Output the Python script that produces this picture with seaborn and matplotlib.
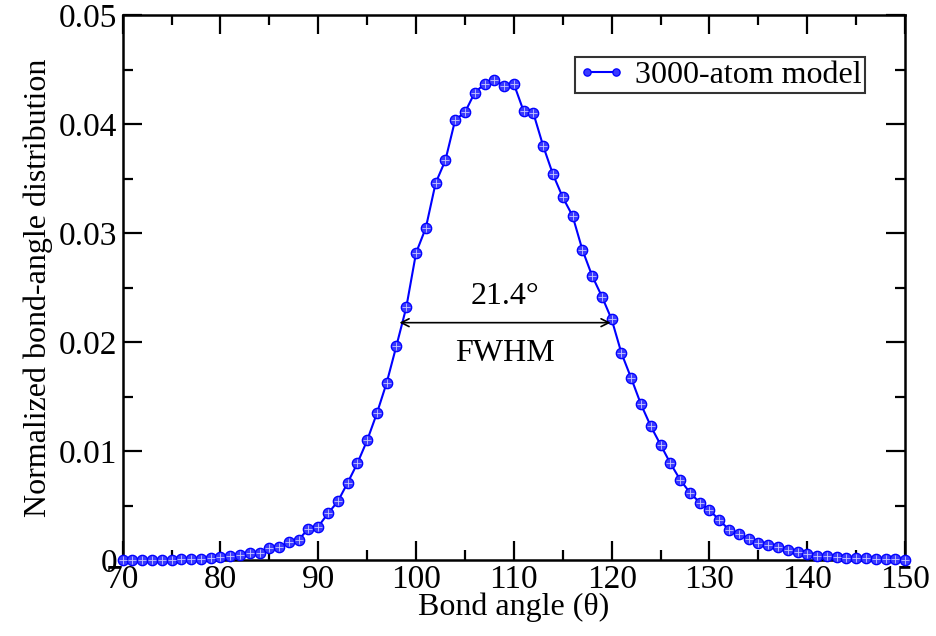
import numpy as np
import pandas as pd
import seaborn as sns
import matplotlib
matplotlib.use("Agg")
import matplotlib.pyplot as plt
from matplotlib.ticker import MultipleLocator, FuncFormatter

angles = list(range(70, 151))
distribution = [
    0.0, 0.0, 0.0, 0.0, 0.00005, 0.00005, 0.0001, 0.0001, 0.00015, 0.0002,
    0.0003, 0.0004, 0.0005, 0.0007, 0.0007, 0.0011, 0.0012, 0.0017, 0.0019, 0.0029,
    0.0031, 0.0043, 0.0054, 0.0071, 0.0089, 0.0110, 0.0135, 0.0163, 0.0197, 0.0232,
    0.0282, 0.0305, 0.0346, 0.0367, 0.0404, 0.0411, 0.0429, 0.0437, 0.0441, 0.0435,
    0.0437, 0.0412, 0.0410, 0.0380, 0.0354, 0.0333, 0.0316, 0.0285, 0.0261, 0.0242,
    0.0221, 0.0190, 0.0167, 0.0143, 0.0123, 0.0106, 0.0089, 0.0074, 0.0062, 0.0053,
    0.0046, 0.0037, 0.0028, 0.0024, 0.0020, 0.0016, 0.0014, 0.0012, 0.00095, 0.0008,
    0.00055, 0.0004, 0.0004, 0.0003, 0.0002, 0.0002, 0.0002, 0.0001, 0.0001, 0.0001,
    0.0,
]
series_label = "3000-atom model"
fwhm_left, fwhm_right, fwhm_level = 98.3, 119.9, 0.0218
fwhm_text = "21.4°"

sns.set_theme(style="ticks")
plt.rcParams['font.family'] = ['Liberation Serif', 'DejaVu Serif']
plt.rcParams['mathtext.fontset'] = 'stix'
for k in ["text.color", "axes.labelcolor", "xtick.color", "ytick.color", "axes.edgecolor"]:
    plt.rcParams[k] = "black"

df = pd.DataFrame({"angle": angles, "dist": distribution})

fig = plt.figure(figsize=(9.36, 6.36), dpi=100)
ax = fig.add_axes([0.131, 0.119, 0.836, 0.857])

blue = "#0000ff"
sns.lineplot(data=df, x="angle", y="dist", ax=ax, color=blue, lw=1.5,
             marker="o", markersize=7.5, markerfacecolor="#3a3aff",
             markeredgecolor=blue, markeredgewidth=0.9, label=series_label,
             clip_on=False, zorder=3)
# hatch-like pattern inside markers
ax.plot(df["angle"], df["dist"], ls="none", marker="+", markersize=6,
        markeredgewidth=0.6, color="#c8c8ff", clip_on=False, zorder=4)

ax.set_xlim(70, 150)
ax.set_ylim(0, 0.05)
ax.xaxis.set_major_locator(MultipleLocator(10))
ax.xaxis.set_minor_locator(MultipleLocator(5))
ax.yaxis.set_major_locator(MultipleLocator(0.01))
ax.yaxis.set_minor_locator(MultipleLocator(0.005))
ax.yaxis.set_major_formatter(FuncFormatter(lambda v, p: "0" if abs(v) < 1e-12 else f"{v:.2f}"))

ax.tick_params(which="both", direction="in", top=True, right=True, width=1.6,
               color="black")
ax.tick_params(which="major", length=14, labelsize=24, pad=4)
ax.tick_params(axis="x", which="major", pad=3)
ax.tick_params(which="minor", length=7)
for s in ax.spines.values():
    s.set_linewidth(1.8)
    s.set_color("black")

ax.set_xlabel("Bond angle (θ)", fontsize=23, labelpad=-2)
ax.set_ylabel("Normalized bond-angle distribution", fontsize=23, labelpad=4)

ax.annotate("", xy=(fwhm_left, fwhm_level), xytext=(fwhm_right, fwhm_level),
            arrowprops=dict(arrowstyle="<->", color="black", lw=1.2,
                            shrinkA=0, shrinkB=0, mutation_scale=14))
ax.text((fwhm_left + fwhm_right) / 2, fwhm_level + 0.0011, fwhm_text,
        ha="center", va="bottom", fontsize=23)
ax.text((fwhm_left + fwhm_right) / 2, fwhm_level - 0.0015, "FWHM",
        ha="center", va="top", fontsize=23)

leg = ax.legend(loc="upper right", bbox_to_anchor=(0.949, 0.923), fontsize=23,
                frameon=True, fancybox=False, handlelength=1.5, numpoints=2,
                markerscale=0.7, borderpad=0.1, handletextpad=0.3,
                borderaxespad=0)
leg.get_frame().set_edgecolor("black")
leg.get_frame().set_linewidth(1.5)

fig.savefig("out.png", dpi=100)
